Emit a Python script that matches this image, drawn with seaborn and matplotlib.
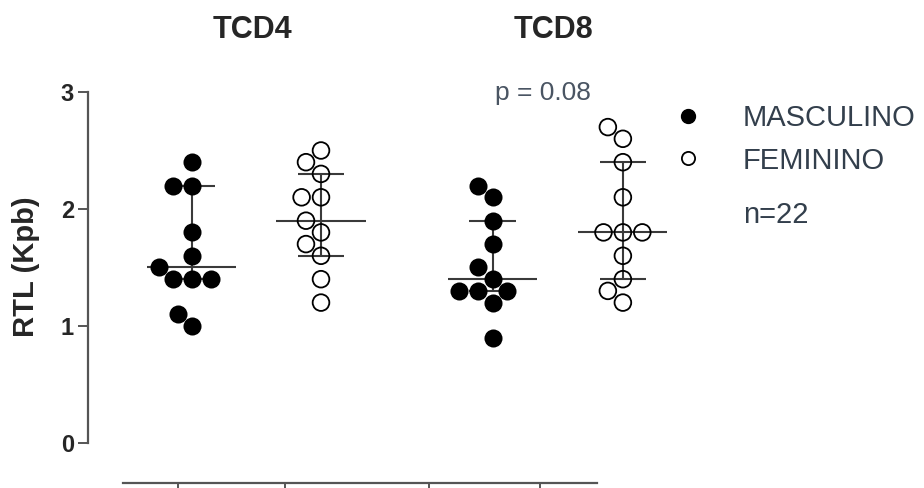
import numpy as np
import pandas as pd
import matplotlib
matplotlib.use("Agg")
import matplotlib.pyplot as plt
from matplotlib.lines import Line2D
import seaborn as sns

sns.set_style("ticks")
plt.rcParams["font.family"] = ["Liberation Sans", "DejaVu Sans"]

# Dados (RTL em Kpb)
masc_tcd4 = [2.4, 2.2, 2.2, 1.8, 1.6, 1.5, 1.4, 1.4, 1.4, 1.1, 1.0]
fem_tcd4 = [2.5, 2.4, 2.3, 2.1, 2.1, 1.9, 1.8, 1.7, 1.6, 1.4, 1.2]
masc_tcd8 = [2.2, 2.1, 1.9, 1.7, 1.5, 1.4, 1.3, 1.3, 1.3, 1.2, 0.9]
fem_tcd8 = [2.7, 2.6, 2.4, 2.1, 1.8, 1.8, 1.8, 1.6, 1.4, 1.3, 1.2]
celulas = ["TCD4", "TCD8"]
sexos = ["MASCULINO", "FEMININO"]
p_valor = "p = 0.08"
n_total = "n=22"

grupos = {
    ("TCD4", "MASCULINO"): masc_tcd4,
    ("TCD4", "FEMININO"): fem_tcd4,
    ("TCD8", "MASCULINO"): masc_tcd8,
    ("TCD8", "FEMININO"): fem_tcd8,
}

# posição de cada grupo no eixo x (layout)
posicoes = {
    ("TCD4", "MASCULINO"): 0.0,
    ("TCD4", "FEMININO"): 1.0,
    ("TCD8", "MASCULINO"): 2.33,
    ("TCD8", "FEMININO"): 3.34,
}

linhas = []
for (cel, sexo), vals in grupos.items():
    for v in vals:
        linhas.append({"celula": cel, "sexo": sexo, "pos": posicoes[(cel, sexo)], "rtl": v})
df = pd.DataFrame(linhas)

fig = plt.figure(figsize=(9.24, 4.88), dpi=100)
ax = fig.add_axes([88 / 924, 5 / 488, 836 / 924, 391 / 488])

cor_linha = "#3a3a3a"
cor_texto = "#333f4c"

# pontos
sns.swarmplot(data=df[df["sexo"] == "MASCULINO"], x="pos", y="rtl", native_scale=True,
              color="black", size=13, linewidth=0, ax=ax)
n_antes = len(ax.collections)
sns.swarmplot(data=df[df["sexo"] == "FEMININO"], x="pos", y="rtl", native_scale=True,
              color="black", edgecolor="black", size=12, linewidth=1.3, ax=ax)
for col in ax.collections[n_antes:]:
    col.set_facecolor("none")

# mediana e intervalo interquartil
for chave, vals in grupos.items():
    p = posicoes[chave]
    q1, med, q3 = np.percentile(vals, [25, 50, 75], method="weibull")
    ax.hlines(med, p - 0.345, p + 0.345, color=cor_linha, lw=1.5, zorder=2)
    ax.hlines([q1, q3], p - 0.18, p + 0.18, color=cor_linha, lw=1.5, zorder=2)
    ax.vlines(p, q1, q3, color=cor_linha, lw=1.5, zorder=2)

ax.set_xlim(-0.806, 5.674)
ax.set_ylim(-0.342, 3.0)

# eixos no estilo Prism
ax.spines["top"].set_visible(False)
ax.spines["right"].set_visible(False)
ax.spines["left"].set_bounds(0, 3)
ax.spines["bottom"].set_bounds(-0.535, 3.14)
for s in ["left", "bottom"]:
    ax.spines[s].set_color("#555555")
    ax.spines[s].set_linewidth(1.6)

ax.set_yticks([0, 1, 2, 3])
ax.set_yticklabels(["0", "1", "2", "3"], fontsize=17, fontweight="bold")
ax.tick_params(axis="y", direction="out", length=7, width=1.4, color="#555555", pad=3)
ax.set_xticks([-0.11, 0.72, 1.84, 2.70])
ax.set_xticklabels([])
ax.tick_params(axis="x", direction="out", length=4, width=1.4, color="#555555")
ax.set_xlabel("")
ax.set_ylabel("")

fig.text(26 / 924, 1 - 267 / 488, "RTL (Kpb)", rotation=90, ha="center", va="center",
         fontsize=21, fontweight="bold")

# títulos dos painéis
for cel in celulas:
    meio = (posicoes[(cel, "MASCULINO")] + posicoes[(cel, "FEMININO")]) / 2
    ax.text(meio - 0.03, 3.53, cel, ha="center", va="center", fontsize=22,
            fontweight="bold", clip_on=False)

ax.text(2.72, 2.99, p_valor, ha="center", va="center", fontsize=19, color="#4a5563",
        clip_on=False)

# legenda
handles = [
    Line2D([], [], marker="o", ls="", color="black", markersize=10),
    Line2D([], [], marker="o", ls="", markerfacecolor="none", markeredgecolor="black",
           markeredgewidth=1.3, markersize=9.5),
]
leg = ax.legend(handles, sexos, loc="upper left", bbox_to_anchor=(676 / 924, 1 - 104 / 488),
                bbox_transform=fig.transFigure, frameon=False, fontsize=21,
                handlelength=0.8, handletextpad=1.5,
                labelspacing=0.5, borderpad=0, borderaxespad=0)
for t in leg.get_texts():
    t.set_color(cor_texto)

fig.text(743 / 924, 1 - 215 / 488, n_total, ha="left", va="center", fontsize=21,
         color=cor_texto)

fig.savefig("out.png", dpi=100)
